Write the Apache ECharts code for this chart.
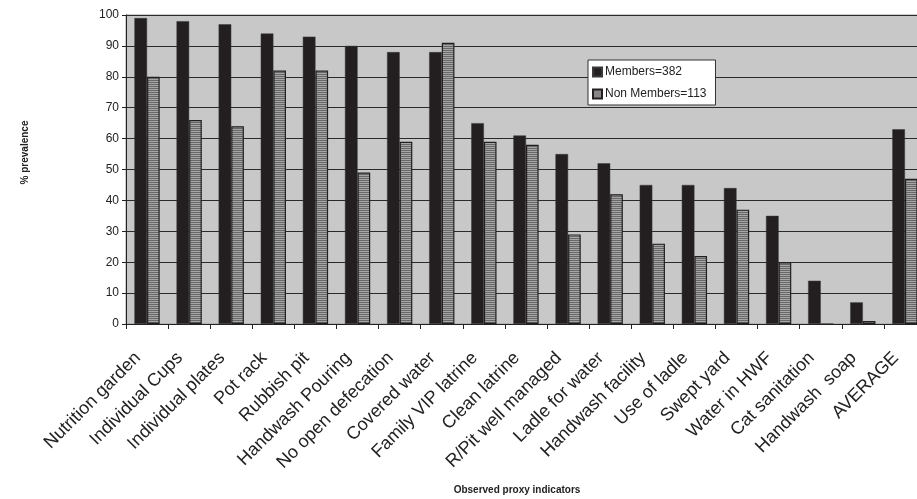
<!DOCTYPE html>
<html>
<head>
<meta charset="utf-8">
<script src="https://cdn.jsdelivr.net/npm/echarts@6/dist/echarts.min.js"></script>
<style>
  html, body { margin: 0; padding: 0; background: #fff; }
  #chart { width: 917px; height: 499px; }
</style>
</head>
<body>
<div id="chart"></div>
<script>
// categories on the x axis
const categories = [
  'Nutrition garden', 'Individual Cups', 'Individual plates', 'Pot rack',
  'Rubbish pit', 'Handwash Pouring', 'No open defecation', 'Covered water',
  'Family VIP latrine', 'Clean latrine', 'R/Pit well managed', 'Ladle for water',
  'Handwash facility', 'Use of ladle', 'Swept yard', 'Water in HWF',
  'Cat sanitation', 'Handwash  soap', 'AVERAGE'
]
// % prevalence, members (n=382)
const members = [99, 98, 97, 94, 93, 90, 88, 88, 65, 61, 55, 52, 45, 45, 44, 35, 14, 7, 63]
// % prevalence, non members (n=113)
const nonMembers = [80, 66, 64, 82, 82, 49, 59, 91, 59, 58, 29, 42, 26, 22, 37, 20, 0, 1, 47]

const seriesNames = ['Members=382', 'Non Members=113']
const yMin = 0
const yMax = 100
const yStep = 10

// striped fill for non members (horizontal lines like the excel pattern)
const makeStripes = () => {
  const c = document.createElement('canvas')
  c.width = 4
  c.height = 2
  const ctx = c.getContext('2d')
  ctx.fillStyle = '#a6a6a6'
  ctx.fillRect(0, 0, 4, 2)
  ctx.fillStyle = '#686868'
  ctx.fillRect(0, 0, 4, 1)
  return c
}

const chart = echarts.init(document.getElementById('chart'), null, { renderer: 'canvas' })

const font = 'Liberation Sans, Arial, sans-serif'

const option = {
  backgroundColor: '#fff',
  animation: false,
  textStyle: { fontFamily: font },
  // plot area runs a little past the right edge of the picture (cropped in the original)
  grid: {
    left: 126,
    top: 15,
    width: 800,
    height: 309,
    outerBoundsMode: 'none',
    containLabel: false,
    show: true,
    backgroundColor: '#c8c8c8',
    borderColor: '#9a9a9a',
    borderWidth: 1
  },
  legend: {
    orient: 'vertical',
    left: 588,
    top: 60,
    padding: [6, 9, 5, 4],
    itemGap: 10,
    itemWidth: 9,
    itemHeight: 9,
    icon: 'rect',
    backgroundColor: '#fff',
    borderColor: '#333',
    borderWidth: 1,
    borderRadius: 0,
    textStyle: { fontSize: 12, color: '#222', padding: [0, 0, 0, -2] },
    data: seriesNames
  },
  xAxis: {
    type: 'category',
    data: categories,
    name: 'Observed proxy indicators',
    nameLocation: 'middle',
    nameGap: 161,
    nameTextStyle: { fontSize: 10, fontWeight: 'bold', color: '#222', padding: [0, 18, 0, 0] },
    axisLine: { lineStyle: { color: '#222', width: 1 } },
    axisTick: { show: true, length: 5, lineStyle: { color: '#222' } },
    axisLabel: {
      interval: 0,
      rotate: 45,
      margin: 22,
      fontSize: 18,
      color: '#222',
      padding: [0, 13, 0, 0]
    },
    splitLine: { show: false }
  },
  yAxis: {
    type: 'value',
    min: yMin,
    max: yMax,
    interval: yStep,
    name: '% prevalence',
    nameLocation: 'middle',
    nameGap: 96,
    nameTextStyle: { fontSize: 10, fontWeight: 'bold', color: '#222', padding: [0, 0, 0, 34] },
    axisLine: { show: true, lineStyle: { color: '#222', width: 1 } },
    axisTick: { show: true, length: 4, lineStyle: { color: '#222' } },
    axisLabel: { fontSize: 12, color: '#222', margin: 7 },
    splitLine: { show: true, lineStyle: { color: '#2a2a2a', width: 1 } }
  },
  series: [
    {
      name: seriesNames[0],
      type: 'bar',
      data: members,
      barGap: '0%',
      barCategoryGap: '40%',
      itemStyle: { color: '#231f20', borderColor: '#3a3a3a', borderWidth: 0.5 }
    },
    {
      name: seriesNames[1],
      type: 'bar',
      data: nonMembers,
      barGap: '0%',
      barCategoryGap: '40%',
      itemStyle: {
        color: { image: makeStripes(), repeat: 'repeat' },
        borderColor: '#231f20',
        borderWidth: 1.2
      }
    }
  ]
}

chart.setOption(option)
</script>
</body>
</html>
